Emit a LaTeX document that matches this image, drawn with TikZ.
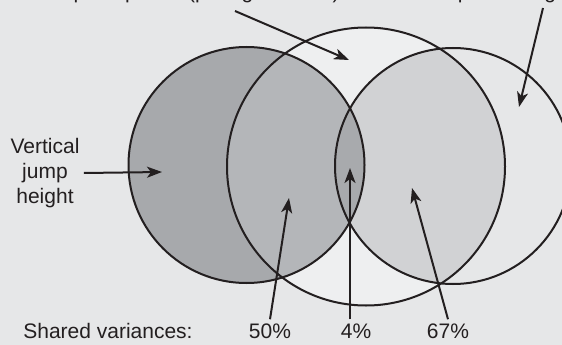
\documentclass[tikz,border=0pt]{standalone}
\usepackage{fontspec}
\setmainfont{Liberation Sans}
\usetikzlibrary{positioning,arrows.meta}
\definecolor{paper}{HTML}{E6E7E8}
\definecolor{ink}{HTML}{231F20}
\definecolor{powerfill}{HTML}{EEEFF0}
\definecolor{bothfill}{HTML}{D1D2D4}
\definecolor{jumpfill}{HTML}{A7A9AC}
\definecolor{jpfill}{HTML}{B4B6B9}
\definecolor{lensfill}{HTML}{A8AAAD}
\tikzset{every picture/.style={line width=2pt}}

\begin{document}
\begin{tikzpicture}[x=1pt, y=-1pt, >={Stealth[length=15pt, width=11pt, inset=4pt]},
    every node/.style={font=\fontsize{21}{25}\selectfont, text=ink},
    venn/.style={circle, draw=ink, inner sep=0pt, outer sep=0pt}]
    \useasboundingbox (0,0) rectangle (562,345);
    \clip (0,0) rectangle (562,345);
    \fill[paper] (0,0) rectangle (562,345);
    % shaded regions
    \fill[powerfill] (366,166.5) circle[radius=139pt];
    \begin{scope}
        \clip (366,166.5) circle[radius=139pt];
        \fill[bothfill] (453,166) circle[radius=118pt];
    \end{scope}
    \fill[jumpfill] (246.5,165) circle[radius=118pt];
    \begin{scope}
        \clip (246.5,165) circle[radius=118pt];
        \fill[jpfill] (366,166.5) circle[radius=139pt];
        \fill[lensfill] (453,166) circle[radius=118pt];
    \end{scope}
    % circles
    \node[venn, minimum size=236pt] (jump)     at (246.5,165) {};
    \node[venn, minimum size=278pt] (power)    at (366,166.5) {};
    \node[venn, minimum size=236pt] (strength) at (453,166)   {};
    % labels
    \node[anchor=base west, inner sep=0pt] (powerlbl)    at (-9,-1)    {Relative peak power (per kg of mass)};
    \node[anchor=base west, inner sep=0pt] (strengthlbl) at (355.5,-1) {Maximal squat strength};
    \node[align=center] (jumplbl) at (45,173) {Vertical\\jump\\height};
    \node (shared) at (108,331) {Shared variances:};
    \node (p50) at (270,331) {50\%};
    \node (p4)  at (356,331) {4\%};
    \node (p67) at (448,331) {67\%};
    % arrow ends
    \coordinate (powerfrom)    at (235,11);
    \coordinate (strengthfrom) at (543,8);
    \coordinate (powertip)     at (349,60);
    \coordinate (strengthtip)  at (519,107);
    \coordinate (jumptip)      at (162,172);
    \coordinate (tip50)        at (289,198);
    \coordinate (tip4)         at (350,168);
    \coordinate (tip67)        at (412,188);
    \draw[->, ink] (powerfrom) -- (powertip);
    \draw[->, ink] (strengthfrom) -- (strengthtip);
    \draw[->, ink] (jumplbl.east) -- (jumptip);
    \draw[->, ink] (p50.north) -- (tip50);
    \draw[->, ink] (p4.north -| tip4) -- (tip4);
    \draw[->, ink] (p67.north) -- (tip67);
\end{tikzpicture}
\end{document}
